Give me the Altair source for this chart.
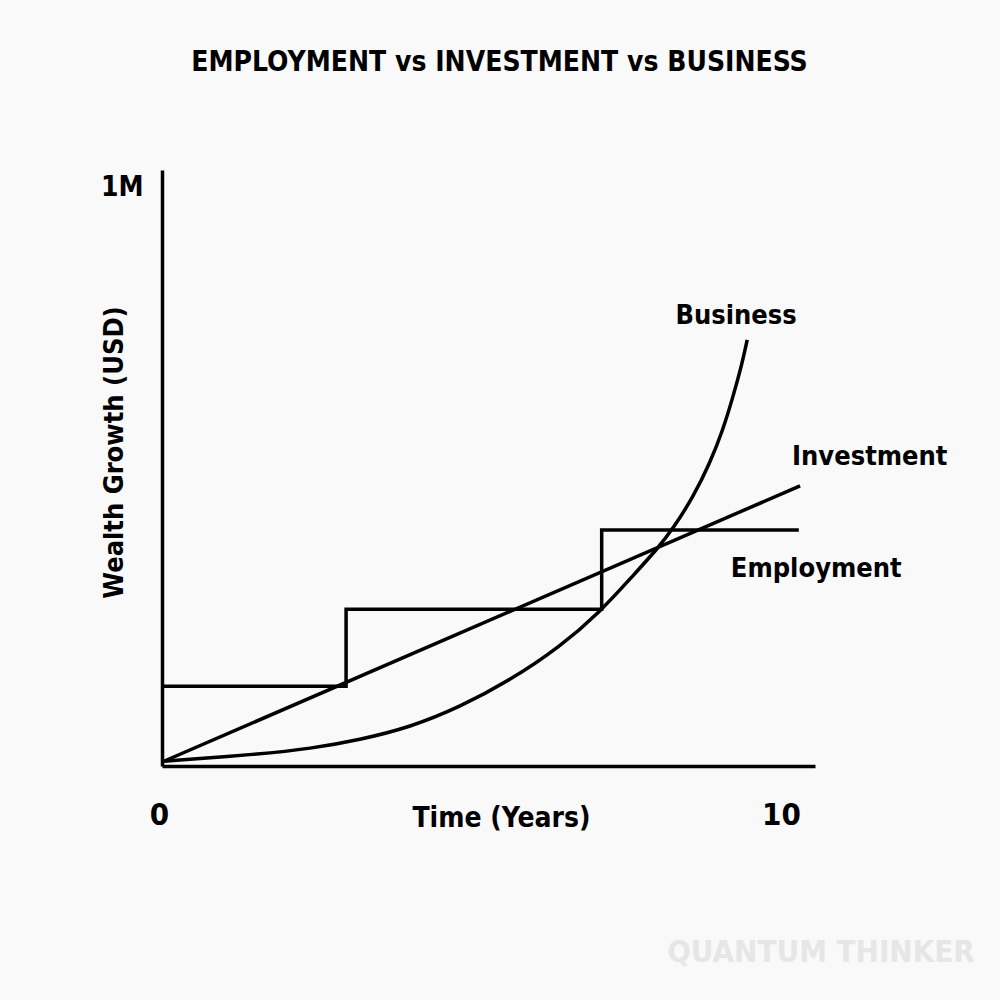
import altair as alt
import pandas as pd

FONT = "DejaVu Sans Condensed, Liberation Sans Narrow, sans-serif"

# ---- data (x in years, y in millions USD) ----
emp_x = [0.0, 2.96, 7.07, 10.24]
emp_y = [0.134, 0.263, 0.396, 0.396]

inv_x = [0.03, 10.26]
inv_y = [0.008, 0.470]

biz_x = [0.03, 1.58, 2.38, 3.18, 3.99, 4.79, 5.60, 6.40, 7.04, 7.57, 7.98,
         8.22, 8.54, 8.81, 9.02, 9.18, 9.33, 9.41]
biz_y = [0.008, 0.020, 0.029, 0.044, 0.065, 0.099, 0.144, 0.200, 0.258, 0.319,
         0.366, 0.399, 0.451, 0.508, 0.564, 0.619, 0.676, 0.715]

label_text = ["Business", "Investment", "Employment"]
label_x = [9.23, 11.38, 10.52]
label_y = [0.755, 0.518, 0.330]

wm_text = ["QUANTUM THINKER"]
wm_x = [13.07]
wm_y = [-0.314]

x_ticks = [0, 10]
y_ticks = [1]

emp = pd.DataFrame({"x": emp_x, "y": emp_y})
inv = pd.DataFrame({"x": inv_x, "y": inv_y})
biz = pd.DataFrame({"x": biz_x, "y": biz_y})
labels = pd.DataFrame({"t": label_text, "x": label_x, "y": label_y})
wm = pd.DataFrame({"t": wm_text, "x": wm_x, "y": wm_y})

xs = alt.Scale(domain=[0, 10.5], nice=False, zero=False)
ys = alt.Scale(domain=[0, 1], nice=False, zero=False)

x_axis = alt.Axis(
    values=x_ticks, format="d", grid=False, ticks=False, domain=True,
    domainColor="black", domainWidth=3.5, labelFlush=False,
    labelFont=FONT, labelFontSize=31, labelFontWeight="bold", labelColor="black",
    labelPadding=34, labelOffset=-3,
    title="Time (Years)", titleFont=FONT, titleFontSize=28, titleFontWeight="bold",
    titleColor="black", titleX=339, titleY=38, titleBaseline="top", titleAlign="center",
)
y_axis = alt.Axis(
    values=y_ticks, labelExpr="'1M'", grid=False, ticks=False, domain=True,
    domainColor="black", domainWidth=3.5, labelFlush=False,
    labelFont=FONT, labelFontSize=28, labelFontWeight="bold", labelColor="black",
    labelPadding=19, labelBaseline="top", labelOffset=3,
    title="Wealth Growth (USD)", titleFont=FONT, titleFontSize=27, titleFontWeight="bold",
    titleColor="black", titleX=-48, titleY=282, titleAlign="center", titleBaseline="middle",
)

emp_line = alt.Chart(emp).mark_line(color="black", strokeWidth=3.5, interpolate="step-after").encode(
    x=alt.X("x:Q", scale=xs, axis=x_axis), y=alt.Y("y:Q", scale=ys, axis=y_axis))
inv_line = alt.Chart(inv).mark_line(color="black", strokeWidth=3.5).encode(
    x=alt.X("x:Q", scale=xs), y=alt.Y("y:Q", scale=ys))
biz_line = alt.Chart(biz).mark_line(color="black", strokeWidth=3.5, interpolate="basis").encode(
    x=alt.X("x:Q", scale=xs), y=alt.Y("y:Q", scale=ys))

lab = alt.Chart(labels).mark_text(
    font=FONT, fontSize=27, fontWeight="bold", color="black", align="center", baseline="middle"
).encode(x=alt.X("x:Q", scale=xs), y=alt.Y("y:Q", scale=ys), text="t:N")

wmark = alt.Chart(wm).mark_text(
    font=FONT, fontSize=31, fontWeight="bold", color="#e6e6e6", align="right", baseline="middle"
).encode(x=alt.X("x:Q", scale=xs), y=alt.Y("y:Q", scale=ys), text="t:N")

chart = alt.layer(wmark, emp_line, inv_line, biz_line, lab).properties(
    width=653, height=596,
    autosize=alt.AutoSizeParams(type="none"),
    padding={"left": 162, "top": 170, "right": 185, "bottom": 234},
    background="#f9f9f9",
    title=alt.TitleParams(
        "EMPLOYMENT vs INVESTMENT vs BUSINESS", font=FONT, fontSize=28,
        fontWeight="bold", color="black", anchor="middle", offset=93, dx=11,
    ),
).configure_view(stroke=None)

chart.save("out.html", embed_options={"renderer": "svg", "actions": False})
